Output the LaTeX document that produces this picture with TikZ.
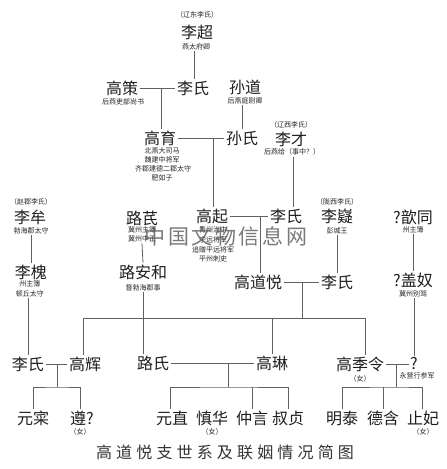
\documentclass[tikz,border=0pt]{standalone}
\usepackage{fontspec}
\setmainfont{Noto Sans CJK SC}
\begin{document}
\begin{tikzpicture}[x=1pt,y=-1pt,
  nm/.style={inner sep=1.5pt, font=\fontsize{16}{16}\selectfont, text=black!88},
  sb/.style={inner sep=1pt, font=\fontsize{7}{7}\selectfont, text=black!85},
  ln/.style={draw=black!62, line width=0.8pt}]
\useasboundingbox (0,0) rectangle (447,469);
\fill[white] (0,0) rectangle (447,469);

% generation 1
\node[sb] (lbA) at (197,15) {（辽东李氏）};
\node[nm] (lichao) at (197,32) {李超};
\node[sb] (lichaoS) at (196,47) {燕太府卿};
\node[nm] (lishiA) at (193,88) {李氏};
\node[nm] (gaoce) at (122,88) {高策};
\node[sb] (gaoceS) at (123,102) {后燕吏部尚书};
\node[nm] (sundao) at (245,87) {孙道};
\node[sb] (sundaoS) at (245,101) {后燕庭尉卿};

% generation 2
\node[nm] (gaoyu) at (160,138) {高育};
\node[sb] (gaoyuS1) at (162,151) {北燕大司马};
\node[sb] (gaoyuS2) at (162,160) {魏建中将军};
\node[sb] (gaoyuS3) at (163,169) {齐郡建德二郡太守};
\node[sb] (gaoyuS4) at (162,178) {肥如子};
\node[nm] (sunshi) at (242,138) {孙氏};
\node[sb] (lbB) at (291,125) {（辽西李氏）};
\node[nm] (licai) at (291,139) {李才};
\node[sb] (licaiS) at (292,152) {后燕给（事中？）};

% generation 3
\node[nm] (gaoqi) at (212,216) {高起};
\node[sb] (gaoqiS1) at (213,230) {青州治中};
\node[sb] (gaoqiS2) at (213,240) {宁远将军};
\node[sb] (gaoqiS3) at (213,250) {追赠平远将军};
\node[sb] (gaoqiS4) at (213,259) {平州刺史};
\node[nm] (lishiB) at (286,216) {李氏};
\node[nm] (gaodaoyue) at (258,282) {高道悦};
\node[sb] (lbC) at (337,202) {（陇西李氏）};
\node[nm] (liyi) at (337,216) {李嶷};
\node[sb] (liyiS) at (337,231) {彭城王};
\node[nm] (lishiC) at (337,282) {李氏};
\node[nm] (xintong) at (413,217) {?歆同};
\node[sb] (xintongS) at (413,230) {州主簿};
\node[nm] (gainu) at (413,280) {?盖奴};
\node[sb] (gainuS) at (413,294) {冀州别驾};

\node[sb] (lbD) at (31,202) {（赵郡李氏）};
\node[nm] (limou) at (30,217) {李牟};
\node[sb] (limouS) at (31,231) {勃海郡太守};
\node[nm] (lihuai) at (31,272) {李槐};
\node[sb] (lihuaiS1) at (30,284) {州主簿};
\node[sb] (lihuaiS2) at (30,294) {顿丘太守};
\node[nm] (luqi) at (142,218) {路芪};
\node[sb] (luqiS1) at (142,230) {冀州主簿};
\node[sb] (luqiS2) at (142,239) {冀州中正};
\node[nm] (luanhe) at (143,272) {路安和};
\node[sb] (luanheS) at (143,288) {督勃海郡事};

% generation 4
\node[nm] (lishiD) at (28,364) {李氏};
\node[nm] (gaohui) at (85,364) {高辉};
\node[nm] (lushi) at (153,363) {路氏};
\node[nm] (gaolin) at (272,363) {高琳};
\node[nm] (gaojiling) at (360,364) {高季令};
\node[sb] (gjlF) at (360,379) {（女）};
\node[nm] (q) at (414,364) {?};
\node[sb] (qS) at (417,376) {永营行参军};

% generation 5
\node[nm] (yuancai) at (33,418) {元寀};
\node[nm] (zun) at (82,418) {遵?};
\node[sb] (zunF) at (80,432) {（女）};
\node[nm] (yuanzhi) at (172,418) {元直};
\node[nm] (shenhua) at (212,418) {慎华};
\node[sb] (shenhuaF) at (212,432) {（女）};
\node[nm] (zhongyan) at (252,418) {仲言};
\node[nm] (shuzhen) at (288,418) {叔贞};
\node[nm] (mingtai) at (342,418) {明泰};
\node[nm] (dehan) at (383,418) {德含};
\node[nm] (zhifei) at (423,418) {止妃};
\node[sb] (zhifeiF) at (423,432) {（女）};

% title
\node[inner sep=0pt, font=\fontsize{16}{16}\selectfont\addfontfeature{LetterSpace=26}, text=black!80] (title) at (225,452) {高道悦支世系及联姻情况简图};

% connectors
\coordinate (jA) at (161,88);
\coordinate (jB) at (213,138);
\coordinate (jC) at (260,216);
\coordinate (jD) at (302,282);
\coordinate (bar) at (302,318);
\coordinate (dH) at (83,318);
\coordinate (dL) at (272,318);
\coordinate (dJ) at (365,318);
\coordinate (jE) at (57,364);
\coordinate (bE) at (57,387);
\coordinate (jF) at (228,363);
\coordinate (bF) at (228,387);
\coordinate (jG) at (396,364);
\coordinate (bG) at (396,387);

\draw[ln] (lichaoS.south -| 194,0) -- (lishiA.north -| 194,0);
\draw[ln] (gaoce.east) -- (lishiA.west);
\draw[ln] (jA) -- (jA |- gaoyu.north);
\draw[ln] (sunshi.north |- sundaoS.south) -- (sunshi.north);
\draw[ln] (gaoyu.east) -- (sunshi.west);
\draw[ln] (jB) -- (jB |- gaoqi.north);
\draw[ln] (licaiS.south -| 293,0) -- (lishiB.north -| 293,0);
\draw[ln] (gaoqi.east) -- (lishiB.west);
\draw[ln] (jC) -- (jC |- gaodaoyue.north);
\draw[ln] (liyiS.south) -- (lishiC.north);
\draw[ln] (gaodaoyue.east) -- (lishiC.west);
\draw[ln] (jD) -- (bar);
\draw[ln] (dH |- gaohui.north) -- (dH) -- (dJ) -- (dJ |- gaojiling.north);
\draw[ln] (dL) -- (dL |- gaolin.north);
\draw[ln] (xintongS.south) -- (gainu.north);
\draw[ln] (q.north |- gainuS.south) -- (q.north);
\draw[ln] (limouS.south) -- (lihuai.north);
\draw[ln] (lishiD.north |- lihuaiS2.south) -- (lishiD.north);
\draw[ln] (luqiS2.south) -- (luanhe.north);
\draw[ln] (luanheS.south) -- (luanheS.south |- lushi.north);

\draw[ln] (lishiD.east) -- (gaohui.west);
\draw[ln] (jE) -- (bE);
\draw[ln] (yuancai.north) |- (bE) -| (zun.north -| 80,0);
\draw[ln] (lushi.east) -- (gaolin.west);
\draw[ln] (jF) -- (bF);
\draw[ln] (yuanzhi.north -| 170,0) |- (bF) -| (shuzhen.north);
\draw[ln] (shenhua.north -| 210,0) -- (shenhua.north -| 210,0 |- bF);
\draw[ln] (zhongyan.north) -- (zhongyan.north |- bF);
\draw[ln] (gaojiling.east) -- (q.west);
\draw[ln] (jG) -- (bG);
\draw[ln] (mingtai.north) |- (bG) -| (zhifei.north -| 422,0);
\draw[ln] (dehan.north) -- (dehan.north |- bG);

% watermark
\node[inner sep=0pt, font=\fontsize{21}{21}\selectfont\addfontfeature{LetterSpace=12}, text=black!65, opacity=0.8] (wm) at (226,236) {中国文物信息网};
\end{tikzpicture}
\end{document}
